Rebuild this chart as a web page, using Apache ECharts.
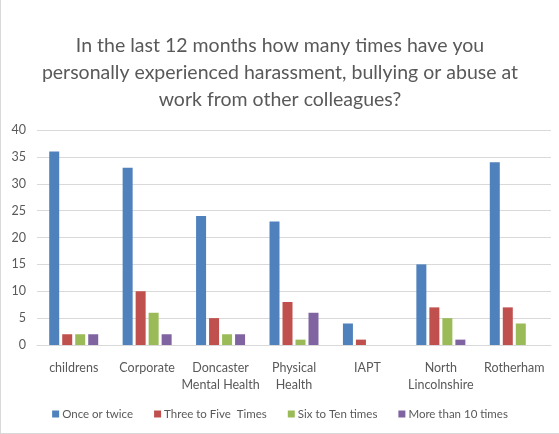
<!DOCTYPE html>
<html><head><meta charset="utf-8">
<script src="https://cdn.jsdelivr.net/npm/echarts@6/dist/echarts.min.js"></script>
<style>html,body{margin:0;padding:0;background:#fff}#c{width:559px;height:434px;box-sizing:border-box;border-left:1px solid #d9d9d9;border-bottom:1px solid #d9d9d9}</style>
</head><body><div id="c"></div>
<script>
const categories = ['childrens','Corporate','Doncaster\nMental Health','Physical\nHealth','IAPT','North\nLincolnshire','Rotherham'];
const seriesNames = ['Once or twice','Three to Five  Times','Six to Ten times','More than 10 times'];
const onceOrTwice = [36,33,24,23,4,15,34];
const threeToFive = [2,10,5,8,1,7,7];
const sixToTen = [2,6,2,1,0,5,4];
const moreThan10 = [2,2,2,6,0,1,0];
const colors = ['#4F81BD','#C0504D','#9BBB59','#8064A2'];
const yTicks = {min:0,max:40,interval:5};
const titleText = 'In the last 12 months how many times have you\npersonally experienced harassment, bullying or abuse at\nwork from other colleagues?';

const chart = echarts.init(document.getElementById('c'));
const data = [onceOrTwice,threeToFive,sixToTen,moreThan10];
chart.setOption({
  animation:false,
  title:{text:titleText,left:'center',top:27,textStyle:{fontFamily:'Lato',fontWeight:'normal',fontSize:19.5,color:'#595959',lineHeight:27}},
  legend:{bottom:8,left:'center',itemWidth:7,itemHeight:7,itemGap:21,icon:'rect',textStyle:{fontFamily:'Lato',fontSize:11.5,color:'#595959',padding:[0,0,0,-2]},data:seriesNames},
  grid:{left:36,right:8,top:130,bottom:88},
  xAxis:{type:'category',data:categories,axisTick:{show:false},axisLine:{lineStyle:{color:'#d9d9d9'}},
    axisLabel:{fontFamily:'Lato',fontSize:12.5,color:'#595959',margin:14,lineHeight:17,interval:0}},
  yAxis:{type:'value',min:yTicks.min,max:yTicks.max,interval:yTicks.interval,axisLine:{show:false},axisTick:{show:false},
    splitLine:{lineStyle:{color:'#d9d9d9'}},axisLabel:{fontFamily:'Lato',fontSize:12.5,color:'#595959',margin:11}},
  series:seriesNames.map((n,i)=>({name:n,type:'bar',data:data[i],barWidth:10,barGap:'30%',itemStyle:{color:colors[i]}}))
});
</script></body></html>
